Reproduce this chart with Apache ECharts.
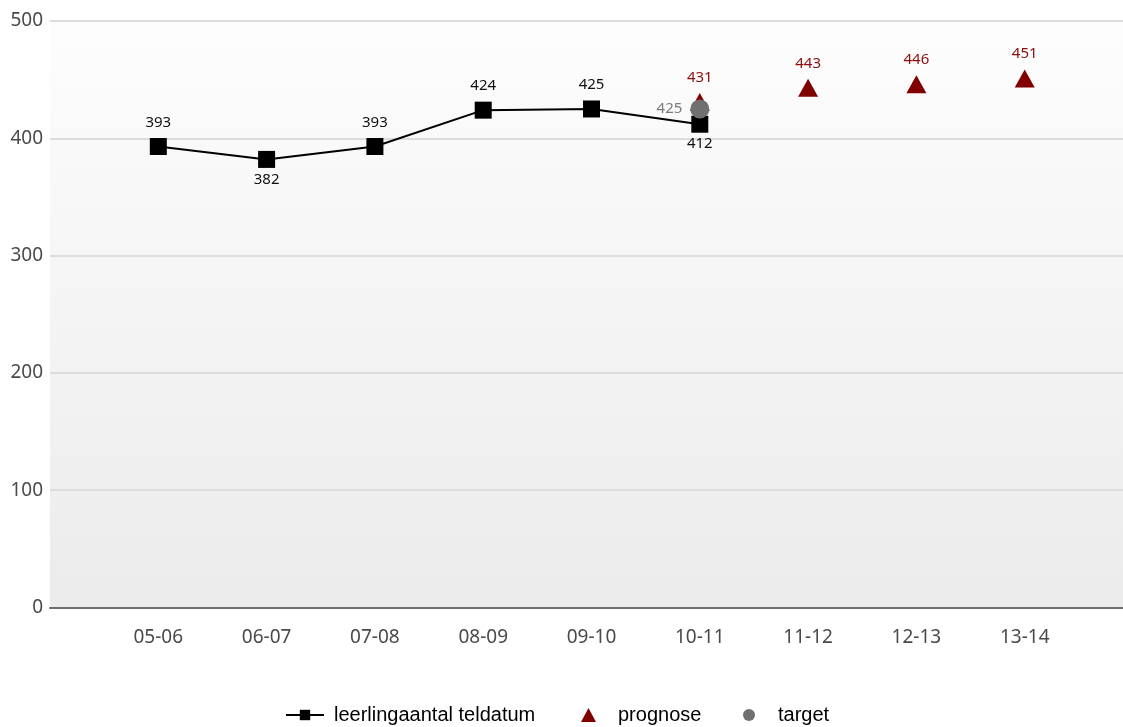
<!DOCTYPE html>
<html>
<head>
<meta charset="utf-8">
<script src="https://cdn.jsdelivr.net/npm/echarts@6/dist/echarts.min.js"></script>
<style>
html, body { margin: 0; padding: 0; background: #fff; }
#main { width: 1123px; height: 727px; }
</style>
</head>
<body>
<div id="main"></div>
<script>
// schooljaren
var categories = ['05-06', '06-07', '07-08', '08-09', '09-10', '10-11', '11-12', '12-13', '13-14'];
var teldatum = [393, 382, 393, 424, 425, 412];
var teldatumLabelPos = ['top', 'bottom', 'top', 'top', 'top', 'bottom'];
var prognose = [null, null, null, null, null, 431, 443, 446, 451];
var target = [null, null, null, null, null, 425];
var yTicks = [0, 100, 200, 300, 400, 500];

// half a category of empty room at both ends
var axisCats = [''].concat(categories, ['']);
function pad(arr) {
    var out = [null];
    for (var i = 0; i < arr.length; i++) out.push(arr[i]);
    return out;
}

var myChart = echarts.init(document.getElementById('main'));

var legendText = { fontFamily: 'Liberation Sans', fontSize: 20, color: '#000' };

var option = {
    animation: false,
    textStyle: { fontFamily: 'Noto Sans' },
    grid: {
        left: 50,
        top: 21,
        width: 1083,
        bottom: 119.5,
        outerBoundsMode: 'none',
        show: true,
        borderWidth: 0,
        backgroundColor: new echarts.graphic.LinearGradient(0, 0, 0, 1, [
            { offset: 0, color: '#fdfdfd' },
            { offset: 1, color: '#ebebeb' }
        ])
    },
    legend: [
        {
            left: 280,
            top: 700,
            itemWidth: 38,
            itemHeight: 13,
            textStyle: Object.assign({ padding: [0, 0, 0, 5] }, legendText),
            data: ['leerlingaantal teldatum']
        },
        {
            left: 576,
            top: 700,
            itemWidth: 15,
            itemHeight: 14,
            textStyle: Object.assign({ padding: [0, 0, 0, 17] }, legendText),
            data: ['prognose']
        },
        {
            left: 738,
            top: 700,
            itemWidth: 12,
            itemHeight: 12,
            textStyle: Object.assign({ padding: [0, 0, 0, 18] }, legendText),
            data: ['target']
        }
    ],
    xAxis: {
        type: 'category',
        boundaryGap: false,
        data: axisCats,
        axisTick: { show: false },
        axisLine: { lineStyle: { color: '#6e6e6e', width: 2 } },
        axisLabel: { color: '#4a4a4a', fontSize: 19, margin: 21 },
        splitLine: { show: false }
    },
    yAxis: {
        type: 'value',
        min: yTicks[0],
        max: yTicks[yTicks.length - 1],
        interval: 100,
        axisLine: { show: false },
        axisTick: { show: false },
        axisLabel: { color: '#4a4a4a', fontSize: 19, margin: 7 },
        splitLine: { lineStyle: { color: '#dcdcdc', width: 2 } }
    },
    series: [
        {
            name: 'leerlingaantal teldatum',
            type: 'line',
            data: pad(teldatum.map(function (v, i) {
                var pos = teldatumLabelPos[i];
                return { value: v, label: { position: pos, distance: pos === 'top' ? 8 : 4 } };
            })),
            symbol: 'rect',
            symbolSize: 17,
            color: '#000',
            itemStyle: { color: '#000', opacity: 1 },
            lineStyle: { color: '#000', width: 2 },
            label: { show: true, color: '#111', fontSize: 15 },
            z: 2
        },
        {
            name: 'prognose',
            type: 'scatter',
            data: pad(prognose),
            symbol: 'triangle',
            symbolSize: [20, 18],
            color: '#800000',
            itemStyle: { color: '#800000', opacity: 1 },
            label: { show: true, position: 'top', color: '#8b0f0f', fontSize: 15, distance: 8 },
            z: 3
        },
        {
            name: 'target',
            type: 'scatter',
            data: pad(target),
            symbol: 'circle',
            symbolSize: 19,
            color: '#707070',
            itemStyle: { color: '#707070', opacity: 1 },
            label: { show: true, position: 'left', color: '#7a7a7a', fontSize: 15, distance: 8 },
            z: 4
        }
    ]
};

myChart.setOption(option);
</script>
</body>
</html>
